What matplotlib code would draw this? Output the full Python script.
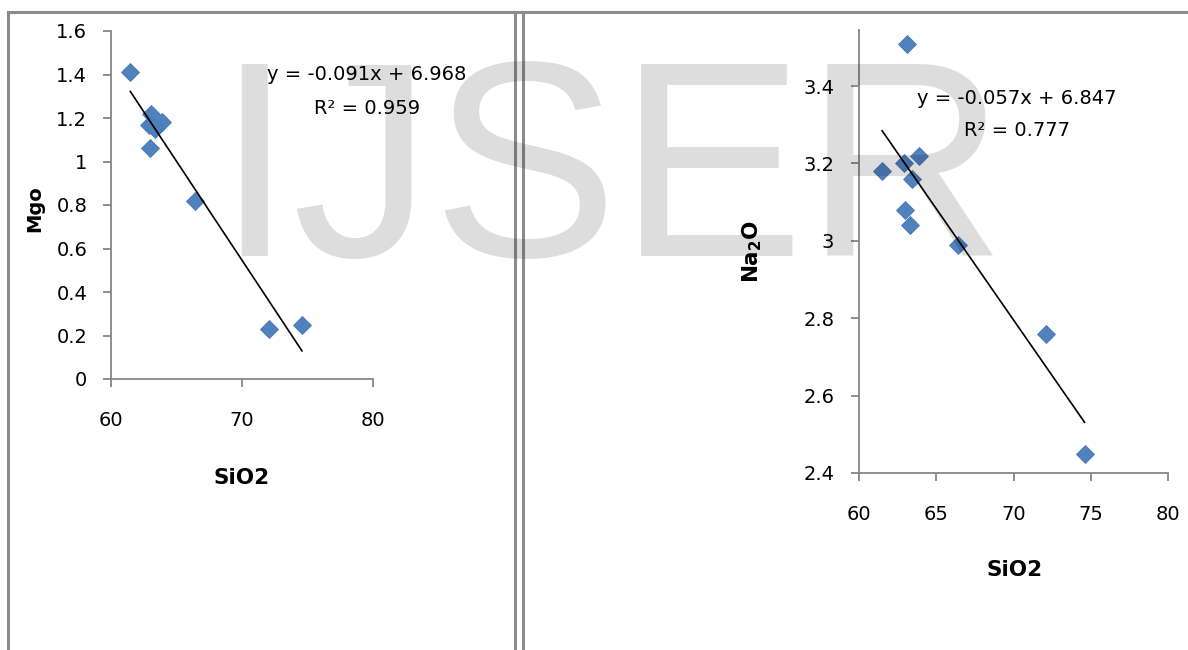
import matplotlib.pyplot as plt
from matplotlib.lines import Line2D
from matplotlib.ticker import FuncFormatter
import numpy as np

plt.rcParams['font.family'] = ['DejaVu Sans']

# data
sio2 = [61.5, 63.1, 62.9, 63.9, 63.4, 63.0, 63.3, 66.4, 72.1, 74.6]
mgo = [1.41, 1.22, 1.17, 1.18, 1.15, 1.06, 1.16, 0.82, 0.23, 0.25]
na2o = [3.18, 3.51, 3.20, 3.22, 3.16, 3.08, 3.04, 2.99, 2.76, 2.45]

mgo_eq = ["y = -0.091x + 6.968", "R² = 0.959"]
na2o_eq = ["y = -0.057x + 6.847", "R² = 0.777"]

left_xticks = [60, 70, 80]
left_yticks = [0, 0.2, 0.4, 0.6, 0.8, 1, 1.2, 1.4, 1.6]
right_xticks = [60, 65, 70, 75, 80]
right_yticks = [2.4, 2.6, 2.8, 3.0, 3.2, 3.4]

blue = '#4F81BD'
axis_grey = '#868686'
fs = 14

fig = plt.figure(figsize=(11.88, 6.5), dpi=100)

# watermark laid over the charts, slightly transparent
fig.text(0.181, 0.606, "IJSER", fontsize=201, color='black', alpha=0.135,
         family='Liberation Sans', ha='left', va='baseline', zorder=10)

# panel frame lines
for xs, ys in [((8/1188, 8/1188), (0, 1 - 12/650)),
               ((8/1188, 1.0), (1 - 12/650, 1 - 12/650)),
               ((515/1188, 515/1188), (0, 1 - 12/650)),
               ((523/1188, 523/1188), (0, 1 - 12/650))]:
    fig.add_artist(Line2D(xs, ys, color='#8c8c8c', lw=2.2, zorder=1))


def style_axes(ax, xpad, ypad):
    ax.set_facecolor('none')
    for s in ['top', 'right']:
        ax.spines[s].set_visible(False)
    for s in ['left', 'bottom']:
        ax.spines[s].set_color(axis_grey)
        ax.spines[s].set_linewidth(1.3)
    ax.tick_params(direction='out', length=5.8, width=1.3, color=axis_grey,
                   labelsize=fs, labelcolor='black')
    ax.tick_params(axis='x', pad=xpad)
    ax.tick_params(axis='y', pad=ypad)
    ax.yaxis.set_major_formatter(FuncFormatter(lambda v, p: '%g' % round(v, 2)))


def scatter_fit(ax, x, y):
    ax.plot(x, y, linestyle='none', marker='D', ms=9, color=blue,
            markeredgecolor='#4a7ab5', markeredgewidth=0.6, zorder=3, clip_on=False)
    k, b = np.polyfit(x, y, 1)
    xx = np.array([min(x), max(x)])
    ax.plot(xx, k * xx + b, color='black', lw=1.2, zorder=4)


# left panel: MgO
ax1 = fig.add_axes([110.7/1188, 1 - 379/650, 262/1188, 348/650])
style_axes(ax1, 17, 11)
scatter_fit(ax1, sio2, mgo)
ax1.set_xlim(60, 80)
ax1.set_ylim(0, 1.6)
ax1.set_xticks(left_xticks)
ax1.set_yticks(left_yticks)
fig.text(367/1188, 1 - 75/650, mgo_eq[0], fontsize=fs, ha='center', va='center')
fig.text(367/1188, 1 - 108/650, mgo_eq[1], fontsize=fs, ha='center', va='center')
fig.text(35/1188, 1 - 209/650, "Mgo", fontsize=fs, fontweight='bold',
         rotation=90, ha='center', va='center')
fig.text(242/1188, 1 - 478/650, "SiO2", fontsize=fs + 1.5, fontweight='bold',
         ha='center', va='center')

# right panel: Na2O
ax2 = fig.add_axes([859/1188, 1 - 473/650, 309/1188, 443/650])
style_axes(ax2, 17, 12)
scatter_fit(ax2, sio2, na2o)
ax2.set_xlim(60, 80)
ax2.set_ylim(2.4, 3.545)
ax2.set_xticks(right_xticks)
ax2.set_yticks(right_yticks)
fig.text(1017/1188, 1 - 98/650, na2o_eq[0], fontsize=fs, ha='center', va='center')
fig.text(1017/1188, 1 - 131/650, na2o_eq[1], fontsize=fs, ha='center', va='center')
fig.text(752/1188, 1 - 251/650, "Na$_\\mathbf{2}$O", fontsize=fs + 1.5, fontweight='bold',
         rotation=90, ha='center', va='center')
fig.text(1015/1188, 1 - 570/650, "SiO2", fontsize=fs + 1.5, fontweight='bold',
         ha='center', va='center')

fig.savefig('out.png', dpi=100)
